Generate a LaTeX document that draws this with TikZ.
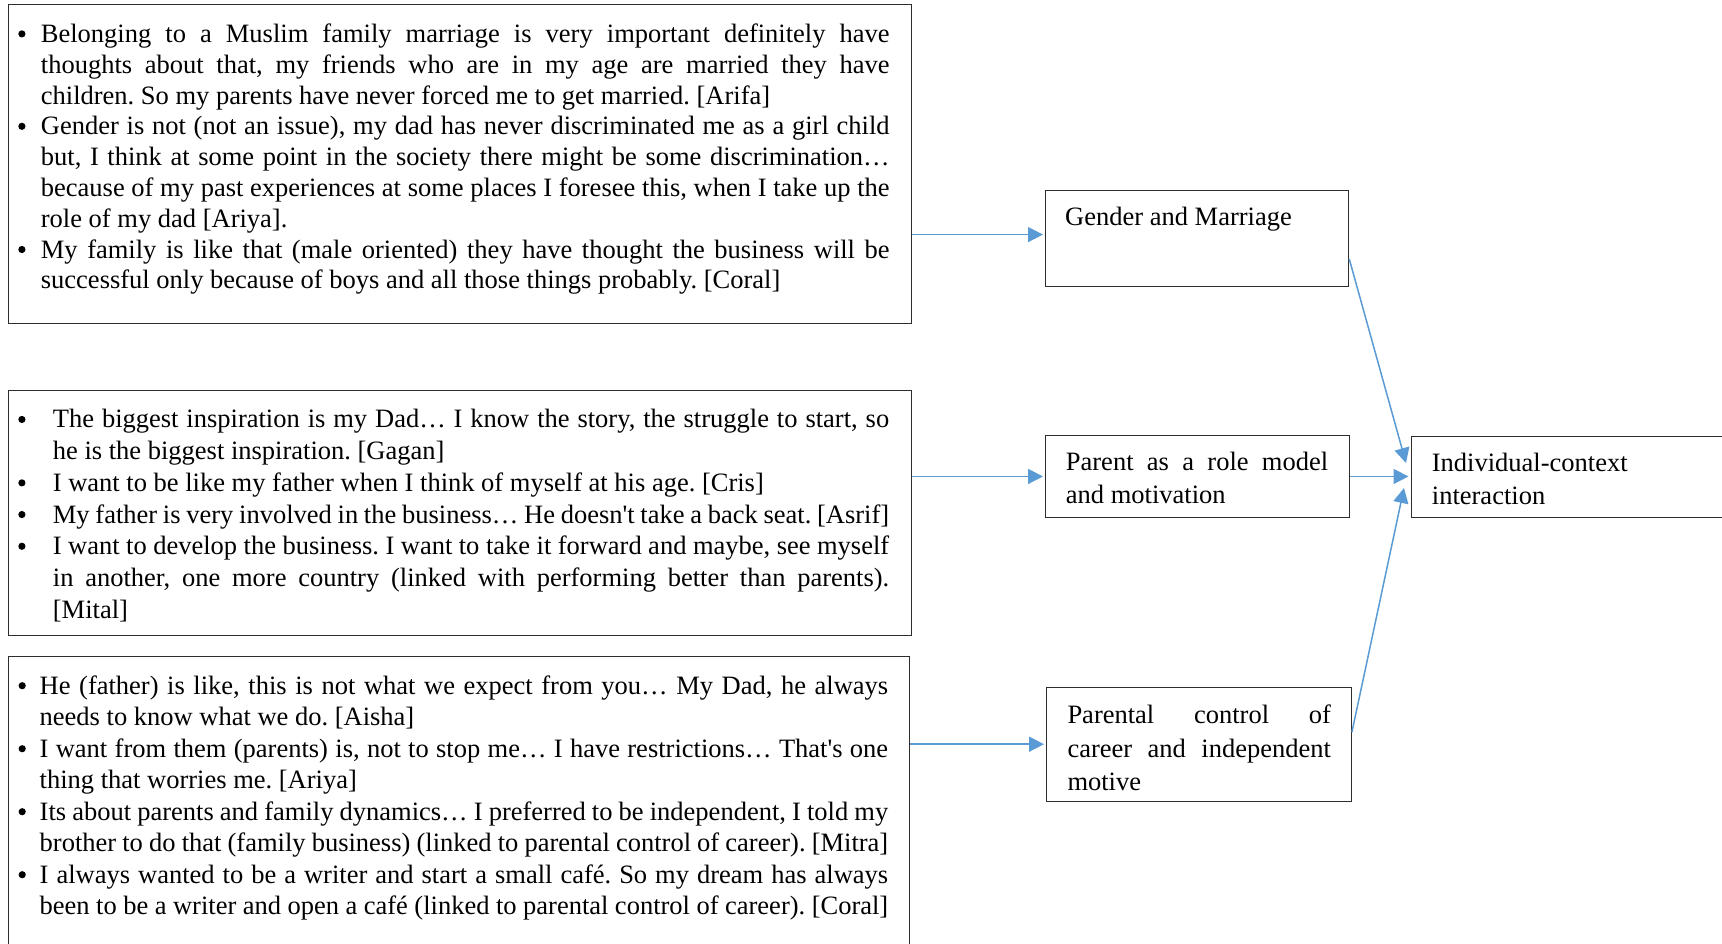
\documentclass[tikz,border=0pt]{standalone}
\usepackage{fontspec}
\setmainfont{Liberation Serif}[Ligatures=TeXOff]
\usetikzlibrary{arrows.meta,calc}
\definecolor{arrowblue}{RGB}{91,155,213}
\definecolor{boxline}{RGB}{45,45,45}
\hyphenpenalty=10000
\exhyphenpenalty=10000
\tolerance=9999
\emergencystretch=20pt
\frenchspacing
\newcommand\dotbullet{\tikz[baseline={(0pt,-8.5pt)}]\fill[black] (0pt,0pt) circle[radius=3.6pt];}
\newcommand\qitem[2]{\par\noindent\llap{\makebox[0pt]{\dotbullet}\hspace{#1}}\strut#2}
\tikzset{
  frame/.style={draw=boxline, line width=1.2pt, inner sep=0pt, anchor=north west},
  quote/.style={inner sep=0pt, anchor=north west, align=justify, font=\fontsize{26.5}{#1}\selectfont},
  label/.style={inner sep=0pt, anchor=north west, align=left, font=\fontsize{26.5}{33}\selectfont},
  link/.style={draw=arrowblue, line width=1.5pt, -{Triangle[length=15pt,width=15pt]}},
}
\begin{document}
\begin{tikzpicture}[x=1pt,y=-1pt]
\useasboundingbox (0,0) rectangle (1722,943);
\clip (0,0) rectangle (1722,943);
\fill[white] (0,0) rectangle (1722,943);
% left frames
\node[frame, minimum width=903pt, minimum height=319pt] (b1) at (8,4) {};
\node[frame, minimum width=903pt, minimum height=245pt] (b2) at (8,390) {};
\node[frame, minimum width=901pt, minimum height=305pt] (b3) at (8,655.5) {};
% theme frames
\node[frame, minimum width=303pt, minimum height=95.7pt] (g) at (1045,190) {};
\node[frame, minimum width=304pt, minimum height=81.7pt] (p) at (1045,435) {};
\node[frame, minimum width=304.7pt, minimum height=113.8pt] (pc) at (1046,686.7) {};
\node[frame, minimum width=340pt, minimum height=81pt] (ind) at (1411,436) {};
% quotes
\node[quote=30.8, text width=848.7pt] (t1) at (40.7,11.4) {%
\qitem{19pt}{Belonging to a Muslim family marriage is very important definitely have \linebreak{} thoughts about that, my friends who are in my age are married they have \linebreak{} children. So my parents have never forced me to get married. [Arifa]}
\qitem{19pt}{Gender is not (not an issue), my dad has never discriminated me as a girl child \linebreak{} but, I think at some point in the society there might be some discrimination… \linebreak{} because of my past experiences at some places I foresee this, when I take up the \linebreak{} role of my dad [Ariya].}
\qitem{19pt}{My family is like that (male oriented) they have thought the business will be \linebreak{} successful only because of boys and all those things probably. [Coral]}};
\node[quote=31.7, text width=836.3pt] (t2) at (52.7,396.05) {%
\qitem{31pt}{The biggest inspiration is my Dad… I know the story, the struggle to start, so \linebreak{} he is the biggest inspiration. [Gagan]}
\qitem{31pt}{I want to be like my father when I think of myself at his age. [Cris]}
\qitem{31pt}{My father is very involved in the business… He doesn't take a back seat. [Asrif]}
\qitem{31pt}{I want to develop the business. I want to take it forward and maybe, see myself \linebreak{} in another, one more country (linked with performing better than parents). \linebreak{} [Mital]}};
\node[quote=31.5, text width=848.5pt] (t3) at (39.5,662.5) {%
\qitem{17.5pt}{He (father) is like, this is not what we expect from you… My Dad, he always \linebreak{} needs to know what we do. [Aisha]}
\qitem{17.5pt}{I want from them (parents) is, not to stop me… I have restrictions… That's one \linebreak{} thing that worries me. [Ariya]}
\qitem{17.5pt}{Its about parents and family dynamics… I preferred to be independent, I told my \linebreak{} brother to do that (family business) (linked to parental control of career). [Mitra]}
\qitem{17.5pt}{I always wanted to be a writer and start a small café. So my dream has always \linebreak{} been to be a writer and open a café (linked to parental control of career). [Coral]}};
% theme labels
\node[label] (tg) at (1065,201.9) {\strut Gender and Marriage};
\node[quote=33, text width=262.3pt] (tp) at (1065.7,447.2) {\strut Parent as a role model \linebreak{} and motivation};
\node[quote=33.5, text width=263.5pt] (tpc) at (1067.3,700.25) {\strut Parental control of \linebreak{} career and independent \linebreak{} motive};
\node[label] (ti) at (1431.7,447.9) {\strut Individual-context\\\strut interaction};
% connectors
\coordinate (gin) at ($(g.north west)!0.46!(g.south west)$);
\draw[link, shorten >=2pt] (b1.east |- gin) -- (gin);
\draw[link, shorten >=2pt] (b2.east |- p.west) -- (p.west);
\draw[link, shorten >=2pt] (b3.east |- pc.west) -- (pc.west);
\coordinate (gout) at ($(g.north east)!0.71!(g.south east)$);
\coordinate (gi) at ($(ind.north west)+(-5,27)$);
\draw[link] (gout) -- (gi);
\draw[link, shorten >=2.5pt] (p.east) -- (p.east -| ind.west);
\coordinate (pcout) at ($(pc.north east)!0.395!(pc.south east)$);
\coordinate (pci) at ($(ind.north west)+(-7,52)$);
\draw[link] (pcout) -- (pci);
\end{tikzpicture}
\end{document}
